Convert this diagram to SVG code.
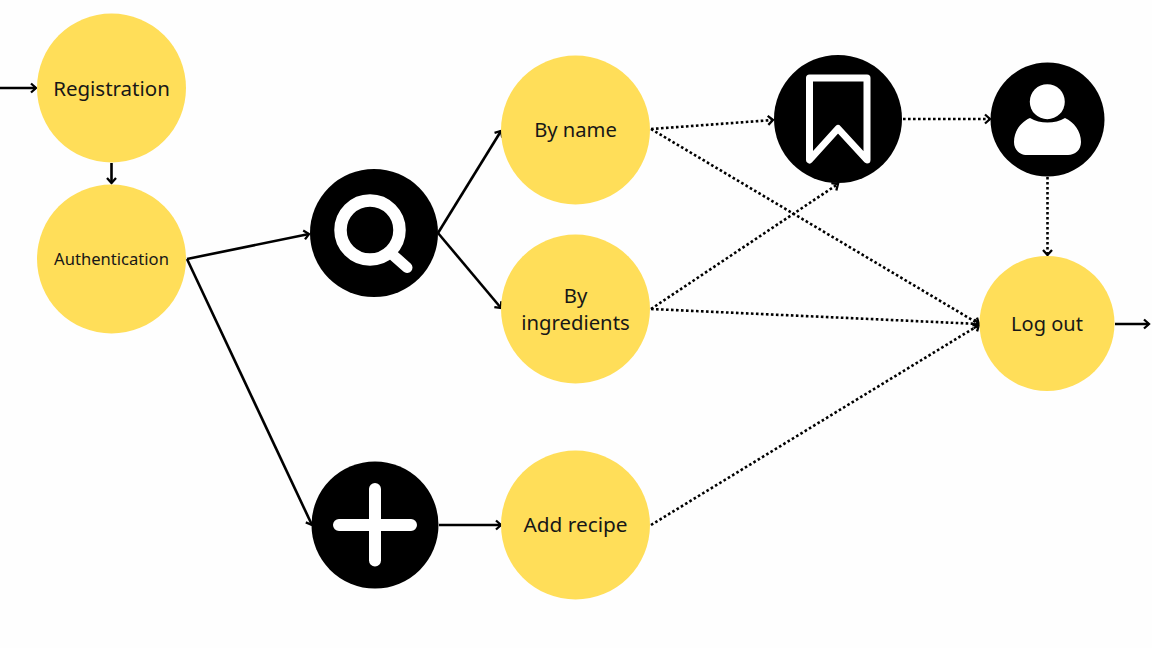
<svg xmlns="http://www.w3.org/2000/svg" width="1152" height="648" viewBox="0 0 1152 648">
<style>
.y{fill:#FFDE59}
.k{fill:#000}
text{font-family:"Noto Sans","Liberation Sans",sans-serif;fill:#171717;text-anchor:middle}
.c{fill:none;stroke:#000;stroke-width:2.6}
.d{stroke-dasharray:2.6 2.4}
.w{fill:none;stroke:#fff;stroke-linecap:round;stroke-linejoin:round}
</style>
<defs>
<marker id="a" viewBox="-8 -6 10 12" refX="0" refY="0" markerWidth="10" markerHeight="12" markerUnits="userSpaceOnUse" orient="auto">
<path d="M-5 -4.500L0 0L-5 4.500" fill="none" stroke="#000" stroke-width="2.300"/>
</marker>
</defs>
<rect width="1152" height="648" fill="#fefefe"/>
<g id="connectors">
<path class="c" marker-end="url(#a)" d="M0 88H36"/>
<path class="c" marker-end="url(#a)" d="M111.500 163V183"/>
<path class="c" marker-end="url(#a)" d="M187 259L309 234"/>
<path class="c" marker-end="url(#a)" d="M187 259L312 525"/>
<path class="c" marker-end="url(#a)" d="M438 233L501 131"/>
<path class="c" marker-end="url(#a)" d="M438 233L501 308"/>
<path class="c" marker-end="url(#a)" d="M439 525H501"/>
<path class="c" marker-end="url(#a)" d="M1115 324H1149"/>
<path class="c d" marker-end="url(#a)" d="M651 129L773 120"/>
<path class="c d" marker-end="url(#a)" d="M903 119H990"/>
<path class="c d" marker-end="url(#a)" d="M651 129L979 324"/>
<path class="c d" marker-end="url(#a)" d="M651 309L838 184"/>
<path class="c d" marker-end="url(#a)" d="M651 309L979 324"/>
<path class="c d" marker-end="url(#a)" d="M651 525L979 325"/>
<path class="c d" marker-end="url(#a)" d="M1047.500 177V255"/>
</g>
<g id="registration"><circle class="y" cx="111.500" cy="88" r="74.500"/><text x="111.500" y="96" font-size="20.500">Registration</text></g>
<g id="authentication"><circle class="y" cx="111.500" cy="259" r="74.500"/><text x="111.500" y="265" font-size="16.600">Authentication</text></g>
<g id="search"><circle class="k" cx="374" cy="233" r="64"/><circle class="w" cx="370" cy="230" r="29.500" stroke-width="12.500"/><path class="w" stroke-width="11" d="M394 256L407 267.500"/></g>
<g id="add"><circle class="k" cx="375" cy="525" r="63.500"/><path class="w" stroke-width="12" d="M375 489V560.500M339 525H411"/></g>
<g id="by-name"><circle class="y" cx="575.500" cy="130" r="74.500"/><text x="575.500" y="137" font-size="20.200">By name</text></g>
<g id="by-ingredients"><circle class="y" cx="575.500" cy="309" r="74.500"/><text x="575.500" y="302.500" font-size="20.300">By</text><text x="575.500" y="329.500" font-size="20.300">ingredients</text></g>
<g id="add-recipe"><circle class="y" cx="575.500" cy="525" r="74.500"/><text x="575.500" y="532" font-size="20.800">Add recipe</text></g>
<g id="bookmark"><circle class="k" cx="838" cy="119" r="64"/><path class="w" stroke-width="7" d="M809.500 78H867V160L838 128.500L809.500 160Z"/></g>
<g id="profile"><circle class="k" cx="1047.500" cy="119.500" r="57"/><circle cx="1047.300" cy="101.700" r="17.500" fill="#fff"/><path fill="#fff" d="M1030 118C1040 124 1055 124 1065 118C1074 122 1081 131 1081 142C1081 150 1075 155 1068 155H1027C1020 155 1014 150 1014 142C1014 131 1021 122 1030 118Z"/></g>
<g id="log-out"><circle class="y" cx="1047" cy="323.500" r="67.500"/><text x="1047" y="331" font-size="20">Log out</text></g>
</svg>
